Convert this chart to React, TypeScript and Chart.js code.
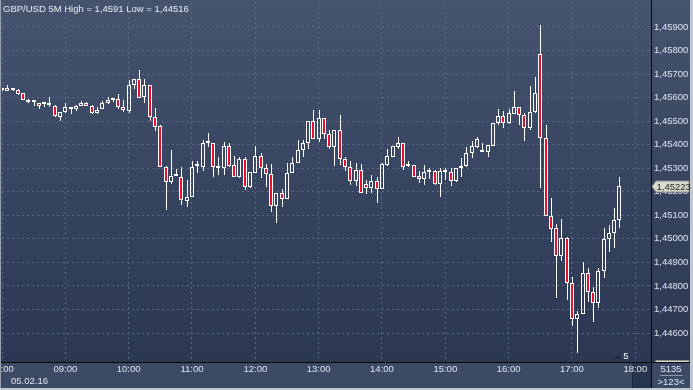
import React, { useEffect, useRef } from 'react';
import { Chart, registerables } from 'chart.js';

Chart.register(...registerables);

const titleText = 'GBP/USD 5M High = 1,4591 Low = 1,44516';
const dateLabel = '05.02.16';
const hourLabels = ['08:00', '09:00', '10:00', '11:00', '12:00', '13:00', '14:00', '15:00', '16:00', '17:00', '18:00'];
const priceTicks = [1.459, 1.458, 1.457, 1.456, 1.455, 1.454, 1.453, 1.452, 1.451, 1.45, 1.449, 1.448, 1.447, 1.446];
const barsCount = '5135';
const barsInfo = '>123<';
const scaleMarker = '5';

// 5-minute candles starting 08:00
const opens = [
  1.45631, 1.45629, 1.45632, 1.45632, 1.45618, 1.45590, 1.45580, 1.45576, 1.45572, 1.45569,
  1.45564, 1.45519, 1.45538, 1.45557, 1.45550, 1.45566, 1.45577, 1.45564, 1.45533, 1.45550,
  1.45576, 1.45591, 1.45594, 1.45559, 1.45544, 1.45654, 1.45678, 1.45601, 1.45654, 1.45519,
  1.45479, 1.45306, 1.45240, 1.45267, 1.45264, 1.45162, 1.45177, 1.45309, 1.45306, 1.45406,
  1.45406, 1.45309, 1.45299, 1.45394, 1.45313, 1.45261, 1.45338, 1.45222, 1.45281, 1.45352,
  1.45299, 1.45275, 1.45140, 1.45194, 1.45168, 1.45278, 1.45323, 1.45377, 1.45406, 1.45501,
  1.45423, 1.45512, 1.45446, 1.45389, 1.45462, 1.45338, 1.45306, 1.45247, 1.45292, 1.45233,
  1.45215, 1.45247, 1.45211, 1.45313, 1.45346, 1.45391, 1.45406, 1.45310, 1.45313, 1.45267,
  1.45253, 1.45285, 1.45288, 1.45233, 1.45285, 1.45285, 1.45247, 1.45299, 1.45309, 1.45363,
  1.45391, 1.45370, 1.45370, 1.45396, 1.45491, 1.45522, 1.45493, 1.45530, 1.45559, 1.45526,
  1.45472, 1.45538, 1.45784, 1.45427, 1.45095, 1.45045, 1.44929, 1.45003, 1.44811, 1.44658,
  1.44680, 1.44854, 1.44773, 1.44726, 1.44865, 1.44998, 1.45024, 1.45078,
];
const highs = [
  1.45637, 1.45652, 1.45641, 1.45635, 1.45620, 1.45594, 1.45584, 1.45579, 1.45578, 1.45604,
  1.45567, 1.45539, 1.45576, 1.45560, 1.45570, 1.45584, 1.45581, 1.45567, 1.45560, 1.45586,
  1.45603, 1.45597, 1.45614, 1.45589, 1.45675, 1.45679, 1.45717, 1.45678, 1.45654, 1.45555,
  1.45484, 1.45309, 1.45377, 1.45296, 1.45304, 1.45250, 1.45332, 1.45330, 1.45420, 1.45448,
  1.45407, 1.45346, 1.45411, 1.45406, 1.45352, 1.45349, 1.45346, 1.45285, 1.45394, 1.45363,
  1.45318, 1.45318, 1.45195, 1.45211, 1.45323, 1.45349, 1.45420, 1.45420, 1.45501, 1.45547,
  1.45547, 1.45512, 1.45462, 1.45462, 1.45526, 1.45349, 1.45332, 1.45323, 1.45318, 1.45250,
  1.45271, 1.45261, 1.45321, 1.45380, 1.45394, 1.45431, 1.45406, 1.45330, 1.45313, 1.45289,
  1.45313, 1.45299, 1.45292, 1.45299, 1.45299, 1.45299, 1.45299, 1.45342, 1.45391, 1.45417,
  1.45434, 1.45406, 1.45399, 1.45493, 1.45552, 1.45543, 1.45552, 1.45628, 1.45560, 1.45533,
  1.45651, 1.45689, 1.45909, 1.45484, 1.45175, 1.45062, 1.45085, 1.45010, 1.44839, 1.44694,
  1.44901, 1.44875, 1.44797, 1.44878, 1.45045, 1.45059, 1.45133, 1.45261,
];
const lows = [
  1.45628, 1.45628, 1.45628, 1.45611, 1.45588, 1.45577, 1.45564, 1.45552, 1.45562, 1.45562,
  1.45518, 1.45502, 1.45535, 1.45530, 1.45544, 1.45564, 1.45564, 1.45530, 1.45532, 1.45550,
  1.45573, 1.45583, 1.45550, 1.45538, 1.45536, 1.45638, 1.45598, 1.45576, 1.45501, 1.45458,
  1.45305, 1.45123, 1.45233, 1.45265, 1.45144, 1.45137, 1.45177, 1.45280, 1.45288, 1.45391,
  1.45261, 1.45271, 1.45271, 1.45304, 1.45261, 1.45257, 1.45208, 1.45218, 1.45278, 1.45257,
  1.45222, 1.45112, 1.45069, 1.45137, 1.45168, 1.45278, 1.45321, 1.45346, 1.45380, 1.45423,
  1.45413, 1.45423, 1.45380, 1.45309, 1.45313, 1.45289, 1.45229, 1.45225, 1.45194, 1.45191,
  1.45196, 1.45154, 1.45211, 1.45309, 1.45346, 1.45380, 1.45292, 1.45306, 1.45261, 1.45239,
  1.45229, 1.45253, 1.45229, 1.45179, 1.45250, 1.45225, 1.45243, 1.45261, 1.45306, 1.45342,
  1.45384, 1.45367, 1.45349, 1.45396, 1.45484, 1.45472, 1.45487, 1.45530, 1.45484, 1.45416,
  1.45462, 1.45533, 1.45218, 1.45095, 1.44988, 1.44750, 1.44906, 1.44740, 1.44631, 1.44516,
  1.44680, 1.44731, 1.44646, 1.44708, 1.44835, 1.44946, 1.44963, 1.45045,
];
const closes = [
  1.45631, 1.45642, 1.45640, 1.45614, 1.45590, 1.45581, 1.45581, 1.45566, 1.45573, 1.45570,
  1.45522, 1.45538, 1.45559, 1.45550, 1.45564, 1.45576, 1.45564, 1.45536, 1.45549, 1.45576,
  1.45590, 1.45592, 1.45559, 1.45547, 1.45654, 1.45678, 1.45600, 1.45654, 1.45519, 1.45477,
  1.45306, 1.45240, 1.45267, 1.45267, 1.45165, 1.45177, 1.45306, 1.45309, 1.45406, 1.45406,
  1.45306, 1.45299, 1.45394, 1.45309, 1.45261, 1.45338, 1.45222, 1.45283, 1.45352, 1.45299,
  1.45274, 1.45140, 1.45194, 1.45168, 1.45278, 1.45323, 1.45377, 1.45406, 1.45501, 1.45423,
  1.45512, 1.45446, 1.45389, 1.45462, 1.45338, 1.45304, 1.45247, 1.45292, 1.45196, 1.45215,
  1.45247, 1.45211, 1.45318, 1.45352, 1.45394, 1.45406, 1.45304, 1.45310, 1.45264, 1.45253,
  1.45285, 1.45285, 1.45233, 1.45288, 1.45285, 1.45247, 1.45299, 1.45310, 1.45365, 1.45394,
  1.45423, 1.45370, 1.45399, 1.45491, 1.45522, 1.45493, 1.45533, 1.45559, 1.45526, 1.45470,
  1.45538, 1.45618, 1.45427, 1.45095, 1.45041, 1.44929, 1.45003, 1.44811, 1.44658, 1.44680,
  1.44854, 1.44773, 1.44726, 1.44865, 1.44998, 1.45024, 1.45081, 1.45223,
];

const FONT = "'Liberation Sans', Arial, sans-serif";
const RED = '#e8102f';
const TEXT = '#dfe4ee';

const fmt = (v: number) => v.toFixed(5).replace('.', ',');

export default function App() {
  const ref = useRef<HTMLCanvasElement | null>(null);

  useEffect(() => {
    const canvas = ref.current;
    if (!canvas) return;

    const bodies = opens.map((o, i) => ({ x: i, y: [o, closes[i]] }));
    const upper = opens.map((o, i) => ({ x: i, y: [Math.max(o, closes[i]), highs[i]] }));
    const lower = opens.map((o, i) => ({ x: i, y: [lows[i], Math.min(o, closes[i])] }));
    const bodyColors = opens.map((o, i) => (closes[i] < o ? RED : 'rgba(0,0,0,0)'));

    // snap candle elements to the pixel grid for crisp rendering
    const snap = {
      id: 'snap',
      beforeDatasetsDraw(chart: any) {
        chart.data.datasets.forEach((_: any, d: number) => {
          const meta = chart.getDatasetMeta(d);
          meta.data.forEach((el: any) => {
            if (d === 0) {
              el.x = Math.round(el.x);
              let top = Math.round(Math.min(el.y, el.base));
              let bot = Math.round(Math.max(el.y, el.base));
              if (bot - top < 2) bot = top + 2;
              el.y = top;
              el.base = bot;
            } else {
              el.x = Math.round(el.x) + 0.5;
              const top = Math.round(Math.min(el.y, el.base));
              const bot = Math.round(Math.max(el.y, el.base));
              el.y = top;
              el.base = bot;
            }
          });
        });
      },
    };

    const decor = {
      id: 'decor',
      beforeDraw(chart: any) {
        const { ctx, width, height } = chart;
        ctx.save();
        const g = ctx.createLinearGradient(0, 0, 0, height);
        g.addColorStop(0, '#46536f');
        g.addColorStop(0.5, '#37445f');
        g.addColorStop(1, '#2a3550');
        ctx.fillStyle = g;
        ctx.fillRect(0, 0, width, height);
        // bottom axis strip
        ctx.fillStyle = '#3d4a66';
        ctx.fillRect(0, 362, 690, 26);
        // dark box under last time label
        ctx.fillStyle = '#28334e';
        ctx.fillRect(632, 363, 19, 25);
        ctx.strokeStyle = '#1c2540';
        ctx.lineWidth = 1;
        ctx.beginPath();
        ctx.moveTo(632.5, 373);
        ctx.lineTo(632.5, 388);
        ctx.stroke();
        ctx.restore();
      },
      afterDraw(chart: any) {
        const { ctx } = chart;
        const yScale = chart.scales.y;
        ctx.save();
        // separators
        ctx.strokeStyle = '#05070c';
        ctx.lineWidth = 1;
        ctx.beginPath();
        ctx.moveTo(0, 362.5);
        ctx.lineTo(690, 362.5);
        ctx.moveTo(651.5, 0);
        ctx.lineTo(651.5, 388);
        ctx.stroke();
        // frame
        ctx.fillStyle = '#c3c7cf';
        ctx.fillRect(690, 0, 3, 390);
        ctx.fillRect(0, 388, 693, 2);
        ctx.fillStyle = '#9aa2b2';
        ctx.fillRect(0, 0, 1, 388);

        // title
        ctx.font = `9.5px ${FONT}`;
        ctx.fillStyle = '#e9ecf2';
        ctx.textAlign = 'left';
        ctx.textBaseline = 'middle';
        ctx.fillText(titleText, 3, 9);

        // date
        ctx.fillStyle = TEXT;
        ctx.fillText(dateLabel, 11, 381);

        // bars info
        ctx.textAlign = 'center';
        ctx.fillText(barsCount, 671, 369);
        ctx.fillText(barsInfo, 671, 382);
        ctx.strokeStyle = '#8b96aa';
        ctx.beginPath();
        ctx.moveTo(660, 375.5);
        ctx.lineTo(683, 375.5);
        ctx.stroke();

        // scale marker
        ctx.fillStyle = '#ffffff';
        ctx.fillText(scaleMarker, 626, 356);
        ctx.fillStyle = '#1e2840';
        ctx.beginPath();
        ctx.moveTo(614, 359);
        ctx.lineTo(617.5, 355.5);
        ctx.lineTo(621, 359);
        ctx.closePath();
        ctx.fill();

        const drawTag = (yy: number, label: string) => {
          ctx.beginPath();
          ctx.moveTo(652, yy);
          ctx.lineTo(656, yy - 5.5);
          ctx.lineTo(689, yy - 5.5);
          ctx.lineTo(689, yy + 5.5);
          ctx.lineTo(656, yy + 5.5);
          ctx.closePath();
          ctx.fillStyle = '#d9d9cf';
          ctx.fill();
          ctx.strokeStyle = '#8d8d84';
          ctx.stroke();
          ctx.fillStyle = '#1b1b1b';
          ctx.textAlign = 'left';
          ctx.textBaseline = 'middle';
          ctx.font = `9.5px ${FONT}`;
          ctx.fillText(label, 656.5, yy + 0.5);
        };

        // clipped lower tag
        ctx.save();
        ctx.beginPath();
        ctx.rect(652, 0, 38, 362);
        ctx.clip();
        drawTag(366, fmt(yScale.getValueForPixel(366)));
        ctx.restore();

        // current price tag
        const last = closes[closes.length - 1];
        drawTag(Math.round(yScale.getPixelForValue(last)) + 0.5, fmt(last));
        ctx.restore();
      },
    };

    const chart = new Chart(canvas, {
      type: 'bar',
      data: {
        datasets: [
          {
            label: 'body',
            data: bodies as any,
            barThickness: 4,
            borderWidth: 1,
            borderColor: '#ffffff',
            borderSkipped: false,
            backgroundColor: bodyColors,
            minBarLength: 2,
            grouped: false,
            inflateAmount: 0,
            order: 0,
          } as any,
          {
            label: 'upper',
            data: upper as any,
            barThickness: 1,
            borderWidth: 0,
            backgroundColor: '#ffffff',
            grouped: false,
            inflateAmount: 0,
            order: 1,
          } as any,
          {
            label: 'lower',
            data: lower as any,
            barThickness: 1,
            borderWidth: 0,
            backgroundColor: '#ffffff',
            grouped: false,
            inflateAmount: 0,
            order: 2,
          } as any,
        ],
      },
      options: {
        animation: false,
        responsive: false,
        devicePixelRatio: 1,
        layout: { padding: { left: 2, top: 2, right: 3, bottom: 2 } },
        plugins: { legend: { display: false }, tooltip: { enabled: false } },
        scales: {
          x: {
            type: 'linear',
            offset: false,
            min: 0,
            max: 122.98,
            grid: { color: '#5a6987', lineWidth: 1, drawTicks: false, offset: false },
            border: { display: false, dash: [2, 3] },
            ticks: {
              autoSkip: false,
              maxRotation: 0,
              color: TEXT,
              padding: 2,
              font: { family: FONT, size: 9.5 },
              callback: (_v: any, idx: number) => hourLabels[idx],
            },
            afterBuildTicks: (s: any) => {
              s.ticks = hourLabels.map((_, k) => ({ value: k * 12 }));
            },
            afterFit: (s: any) => {
              s.height = 26;
              s.paddingLeft = 0;
              s.paddingRight = 0;
            },
          } as any,
          y: {
            type: 'linear',
            position: 'right',
            min: 1.44477,
            max: 1.46006,
            grid: { color: '#5a6987', lineWidth: 1, drawTicks: false },
            border: { display: false, dash: [2, 3] },
            ticks: {
              color: TEXT,
              padding: 3,
              font: { family: FONT, size: 9.5 },
              callback: (v: any) => fmt(Number(v)),
            },
            afterBuildTicks: (s: any) => {
              s.ticks = priceTicks.map((v) => ({ value: v }));
            },
            afterFit: (s: any) => {
              s.width = 39;
              s.paddingTop = 0;
              s.paddingBottom = 0;
            },
          } as any,
        },
      },
      plugins: [decor, snap],
    });

    return () => chart.destroy();
  }, []);

  return (
    <div style={{ position: 'absolute', left: 0, top: 0, width: 693, height: 390 }}>
      <canvas ref={ref} width={693} height={390} style={{ display: 'block', width: 693, height: 390 }} />
    </div>
  );
}
